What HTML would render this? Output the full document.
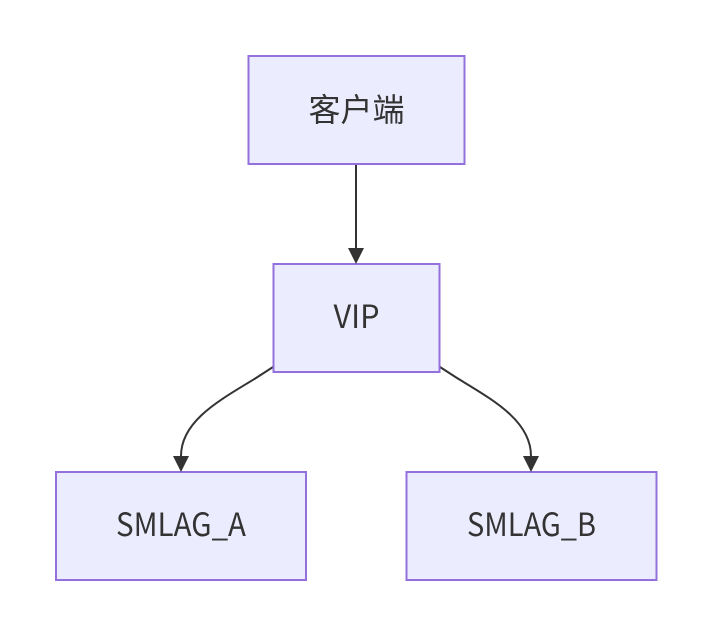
<!DOCTYPE html>
<html>
<head>
<meta charset="utf-8">
<style>
html,body{margin:0;padding:0;background:#fff;width:712px;height:636px;overflow:hidden}
svg{display:block}
text{font-family:"Noto Sans CJK SC","Liberation Sans",sans-serif;font-size:32px;fill:#333;text-anchor:middle}
rect{fill:#ECECFF;stroke:#9370DB;stroke-width:2}
path.e{fill:none;stroke:#333;stroke-width:2}
path.a{fill:#333;stroke:none}
</style>
</head>
<body>
<svg width="712" height="636" viewBox="0 0 712 636" xmlns="http://www.w3.org/2000/svg">
<path class="e" d="M356 164 L356 248"/>
<path class="e" d="M273 367 L256 378 C222 399 181 420 181 456"/>
<path class="e" d="M440 367 L457 378 C491 399 531 420 531 456"/>
<rect x="248.500" y="56" width="216" height="108"/>
<rect x="273.500" y="264" width="166" height="108"/>
<rect x="56" y="472" width="250" height="108"/>
<rect x="406.500" y="472" width="250" height="108"/>
<path class="a" d="M348 248 L364 248 L356 264 Z"/>
<path class="a" d="M173 456 L189 456 L181 472 Z"/>
<path class="a" d="M523 456 L539 456 L531 472 Z"/>
<text x="356.500" y="121">客户端</text>
<text x="356.500" y="328" textLength="46" lengthAdjust="spacingAndGlyphs">VIP</text>
<text x="181" y="536" textLength="130" lengthAdjust="spacingAndGlyphs">SMLAG_A</text>
<text x="531.500" y="536" textLength="129" lengthAdjust="spacingAndGlyphs">SMLAG_B</text>
</svg>
</body>
</html>
